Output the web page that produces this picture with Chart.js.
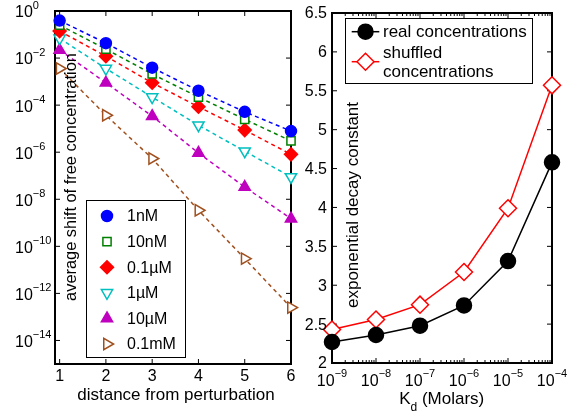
<!DOCTYPE html>
<html>
<head>
<meta charset="utf-8">
<script src="https://cdn.jsdelivr.net/npm/chart.js@4/dist/chart.umd.min.js"></script>
<style>
body{margin:0;background:#fff;width:581px;height:417px;position:relative;overflow:hidden}
#left{position:absolute;left:0;top:0}
#right{position:absolute;left:300px;top:0}
</style>
</head>
<body>
<canvas id="left" width="300" height="417"></canvas>
<canvas id="right" width="281" height="417"></canvas>
<script>
// left panel data
var distances = [1, 2, 3, 4, 5, 6];
var conc1nM   = [3.9e-1, 4.3e-2, 3.9e-3, 4.1e-4, 5.2e-5, 7.9e-6];
var conc10nM  = [2.5e-1, 2.4e-2, 2.1e-3, 2.2e-4, 2.5e-5, 3.0e-6];
var conc01uM  = [1.4e-1, 1.2e-2, 8.9e-4, 8.5e-5, 8.7e-6, 8.1e-7];
var conc1uM   = [6.9e-2, 3.6e-3, 2.2e-4, 1.4e-5, 1.1e-6, 8.9e-8];
var conc10uM  = [2.2e-2, 8.9e-4, 3.4e-5, 9.3e-7, 3.3e-8, 1.5e-9];
var conc01mM  = [3.6e-3, 3.7e-5, 5.4e-7, 3.4e-9, 3.0e-11, 2.5e-13];
var leftYExps = [0, -2, -4, -6, -8, -10, -12, -14];

// right panel data
var kdValues  = [1e-9, 1e-8, 1e-7, 1e-6, 1e-5, 1e-4];
var realDecay = [2.27, 2.36, 2.48, 2.74, 3.31, 4.58];
var shufDecay = [2.43, 2.56, 2.75, 3.17, 3.99, 5.57];
var rightYTicks = [2, 2.5, 3, 3.5, 4, 4.5, 5, 5.5, 6, 6.5];

var FONT = '"Liberation Sans", Arial, sans-serif';

function pts(xs, ys) {
    return xs.map(function(x, i){ return {x: x, y: ys[i]}; });
}

function pow10(ctx, x, y, exp, center, supOff) {
    ctx.font = '16px ' + FONT;
    var w1 = ctx.measureText('10').width;
    var e = exp < 0 ? '\u2212' + (-exp) : String(exp);
    ctx.font = '11px ' + FONT;
    var w2 = ctx.measureText(e).width;
    var x0 = center ? x - (w1 + w2) / 2 : x;
    ctx.textAlign = 'left';
    ctx.textBaseline = 'middle';
    ctx.fillStyle = '#000';
    ctx.font = '16px ' + FONT;
    ctx.fillText('10', x0, y);
    ctx.font = '11px ' + FONT;
    ctx.fillText(e, x0 + w1, y - supOff);
}

var leftSeries = [
    {label: '1nM',   data: conc1nM,  color: '#0000ff', style: 'circle',   rot: 0,   r: 5.5, fill: true},
    {label: '10nM',  data: conc10nM, color: '#008000', style: 'rect',     rot: 0,   r: 5.8, fill: false},
    {label: '0.1\u00b5M', data: conc01uM, color: '#ff0000', style: 'rectRot', rot: 0, r: 6.5, fill: true},
    {label: '1\u00b5M',   data: conc1uM,  color: '#00bfbf', style: 'triangle', rot: 180, r: 6.5, fill: false},
    {label: '10\u00b5M',  data: conc10uM, color: '#bf00bf', style: 'triangle', rot: 0, r: 6.5, fill: true},
    {label: '0.1mM', data: conc01mM, color: '#a0501e', style: 'triangle', rot: 90,  r: 6.5, fill: false}
];

var leftPlugin = {
    id: 'leftDeco',
    beforeDatasetsDraw: function(chart) {
        var ctx = chart.ctx, a = chart.chartArea;
        var xs = chart.scales.x, ys = chart.scales.y;
        ctx.save();
        ctx.strokeStyle = '#000';
        ctx.lineWidth = 1;
        distances.forEach(function(d){
            var x = xs.getPixelForValue(d);
            ctx.beginPath();
            ctx.moveTo(x, a.bottom); ctx.lineTo(x, a.bottom - 5);
            ctx.moveTo(x, a.top); ctx.lineTo(x, a.top + 5);
            ctx.stroke();
        });
        leftYExps.forEach(function(e){
            var y = ys.getPixelForValue(Math.pow(10, e));
            ctx.beginPath();
            ctx.moveTo(a.left, y); ctx.lineTo(a.left + 5, y);
            ctx.moveTo(a.right, y); ctx.lineTo(a.right - 5, y);
            ctx.stroke();
        });
        ctx.lineWidth = 2;
        ctx.strokeRect(a.left, a.top, a.right - a.left, a.bottom - a.top);
        ctx.restore();
    },
    afterDraw: function(chart) {
        var ctx = chart.ctx, a = chart.chartArea;
        var xs = chart.scales.x, ys = chart.scales.y;
        ctx.save();
        leftYExps.forEach(function(e){
            var y = ys.getPixelForValue(Math.pow(10, e));
            pow10(ctx, 15, y + 2, e, false, 7);
        });
        ctx.font = '16px ' + FONT;
        ctx.textAlign = 'center';
        ctx.textBaseline = 'middle';
        distances.forEach(function(d){
            ctx.fillText(String(d), xs.getPixelForValue(d), 377);
        });
        ctx.font = '17px ' + FONT;
        ctx.fillText('distance from perturbation', 176, 395);
        ctx.save();
        ctx.font = '16.4px ' + FONT;
        ctx.translate(71, 177);
        ctx.rotate(-Math.PI / 2);
        ctx.fillText('average shift of free concentration', 0, 0);
        ctx.restore();

        // legend
        ctx.fillStyle = '#fff';
        ctx.fillRect(86, 200, 99, 157);
        ctx.strokeStyle = '#000';
        ctx.lineWidth = 1;
        ctx.strokeRect(86.5, 200.5, 99, 157);
        leftSeries.forEach(function(s, i){
            var y = 216 + i * 25.6;
            ctx.fillStyle = s.fill ? s.color : '#fff';
            ctx.strokeStyle = s.color;
            ctx.lineWidth = 1.5;
            Chart.helpers.drawPoint(ctx, {pointStyle: s.style, radius: s.r, rotation: s.rot, borderWidth: 1.5}, 107, y);
            ctx.fillStyle = '#000';
            ctx.font = '16px ' + FONT;
            ctx.textAlign = 'left';
            ctx.textBaseline = 'middle';
            ctx.fillText(s.label, 127, y + 1);
        });
        ctx.restore();
    }
};

new Chart(document.getElementById('left').getContext('2d'), {
    type: 'scatter',
    data: {
        datasets: leftSeries.map(function(s){
            return {
                label: s.label,
                data: pts(distances, s.data),
                showLine: true,
                borderColor: s.color,
                borderWidth: 1.5,
                borderDash: [4, 3.5],
                pointStyle: s.style,
                pointRotation: s.rot,
                pointRadius: s.r,
                pointBorderWidth: 1.5,
                pointBackgroundColor: s.fill ? s.color : '#fff',
                pointBorderColor: s.color,
                clip: false
            };
        })
    },
    options: {
        responsive: false,
        animation: false,
        layout: {padding: {left: 55, right: 9, top: 11, bottom: 53}},
        plugins: {legend: {display: false}, tooltip: {enabled: false}},
        scales: {
            x: {type: 'linear', min: 0.9, max: 6, display: false},
            y: {type: 'logarithmic', min: 1e-15, max: 1, display: false}
        }
    },
    plugins: [leftPlugin]
});

var rightPlugin = {
    id: 'rightDeco',
    beforeDatasetsDraw: function(chart) {
        var ctx = chart.ctx, a = chart.chartArea;
        var xs = chart.scales.x, ys = chart.scales.y;
        ctx.save();
        ctx.strokeStyle = '#000';
        ctx.lineWidth = 1;
        for (var e = -9; e <= -4; e++) {
            var x = xs.getPixelForValue(Math.pow(10, e));
            ctx.beginPath();
            ctx.moveTo(x, a.bottom); ctx.lineTo(x, a.bottom - 5);
            ctx.moveTo(x, a.top); ctx.lineTo(x, a.top + 5);
            ctx.stroke();
            if (e < -4) {
                for (var k = 2; k <= 9; k++) {
                    var xm = xs.getPixelForValue(k * Math.pow(10, e));
                    ctx.beginPath();
                    ctx.moveTo(xm, a.bottom); ctx.lineTo(xm, a.bottom - 3);
                    ctx.moveTo(xm, a.top); ctx.lineTo(xm, a.top + 3);
                    ctx.stroke();
                }
            }
        }
        rightYTicks.forEach(function(v){
            var y = ys.getPixelForValue(v);
            ctx.beginPath();
            ctx.moveTo(a.left, y); ctx.lineTo(a.left + 5, y);
            ctx.moveTo(a.right, y); ctx.lineTo(a.right - 5, y);
            ctx.stroke();
        });
        ctx.lineWidth = 2;
        ctx.strokeRect(a.left, a.top, a.right - a.left, a.bottom - a.top);
        ctx.restore();
    },
    afterDraw: function(chart) {
        var ctx = chart.ctx, a = chart.chartArea;
        var xs = chart.scales.x, ys = chart.scales.y;
        ctx.save();
        ctx.fillStyle = '#000';
        ctx.font = '16px ' + FONT;
        ctx.textAlign = 'right';
        ctx.textBaseline = 'middle';
        rightYTicks.forEach(function(v){
            ctx.fillText(String(v), 27, ys.getPixelForValue(v) + 1);
        });
        for (var e = -9; e <= -4; e++) {
            pow10(ctx, xs.getPixelForValue(Math.pow(10, e)), 382, e, true, 8);
        }
        // x title with subscript
        ctx.font = '17px ' + FONT;
        var wK = ctx.measureText('K').width;
        var rest = ' (Molars)';
        var wR = ctx.measureText(rest).width;
        ctx.font = '12px ' + FONT;
        var wd = ctx.measureText('d').width;
        var x0 = 141.7 - (wK + wd + wR) / 2;
        ctx.textAlign = 'left';
        ctx.font = '17px ' + FONT;
        ctx.fillText('K', x0, 399);
        ctx.fillText(rest, x0 + wK + wd, 399);
        ctx.font = '12px ' + FONT;
        ctx.fillText('d', x0 + wK, 408);
        // y title
        ctx.font = '17px ' + FONT;
        ctx.textAlign = 'center';
        ctx.save();
        ctx.translate(53, 205);
        ctx.rotate(-Math.PI / 2);
        ctx.fillText('exponential decay constant', 0, 0);
        ctx.restore();

        // legend
        ctx.fillStyle = '#fff';
        ctx.fillRect(45, 18, 187, 65);
        ctx.strokeStyle = '#000';
        ctx.lineWidth = 1;
        ctx.strokeRect(45.5, 18.5, 187, 65);
        ctx.lineWidth = 1.5;
        ctx.beginPath();
        ctx.moveTo(51.7, 31.7); ctx.lineTo(79.3, 31.7);
        ctx.stroke();
        ctx.fillStyle = '#000';
        Chart.helpers.drawPoint(ctx, {pointStyle: 'circle', radius: 7.5, borderWidth: 1.5}, 65.5, 31.7);
        ctx.strokeStyle = '#ff0000';
        ctx.beginPath();
        ctx.moveTo(51.7, 61.7); ctx.lineTo(79.3, 61.7);
        ctx.stroke();
        ctx.fillStyle = '#fff';
        Chart.helpers.drawPoint(ctx, {pointStyle: 'rectRot', radius: 8.5, borderWidth: 1.5}, 65.5, 61.7);
        ctx.fillStyle = '#000';
        ctx.font = '17px ' + FONT;
        ctx.textAlign = 'left';
        ctx.textBaseline = 'middle';
        ctx.fillText('real concentrations', 83, 32);
        ctx.fillText('shuffled', 83, 53);
        ctx.fillText('concentrations', 83, 72);
        ctx.restore();
    }
};

new Chart(document.getElementById('right').getContext('2d'), {
    type: 'scatter',
    data: {
        datasets: [
            {
                label: 'real concentrations',
                data: pts(kdValues, realDecay),
                showLine: true,
                borderColor: '#000',
                borderWidth: 1.5,
                pointStyle: 'circle',
                pointRadius: 7.5,
                pointBackgroundColor: '#000',
                pointBorderColor: '#000',
                clip: false
            },
            {
                label: 'shuffled concentrations',
                data: pts(kdValues, shufDecay),
                showLine: true,
                borderColor: '#ff0000',
                borderWidth: 1.5,
                pointStyle: 'rectRot',
                pointRadius: 8.5,
                pointBorderWidth: 1.5,
                pointBackgroundColor: '#fff',
                pointBorderColor: '#ff0000',
                clip: false
            }
        ]
    },
    options: {
        responsive: false,
        animation: false,
        layout: {padding: {left: 32, right: 29, top: 13, bottom: 54}},
        plugins: {legend: {display: false}, tooltip: {enabled: false}},
        scales: {
            x: {type: 'logarithmic', min: 1e-9, max: 1e-4, display: false},
            y: {type: 'linear', min: 2, max: 6.5, display: false}
        }
    },
    plugins: [rightPlugin]
});
</script>
</body>
</html>
